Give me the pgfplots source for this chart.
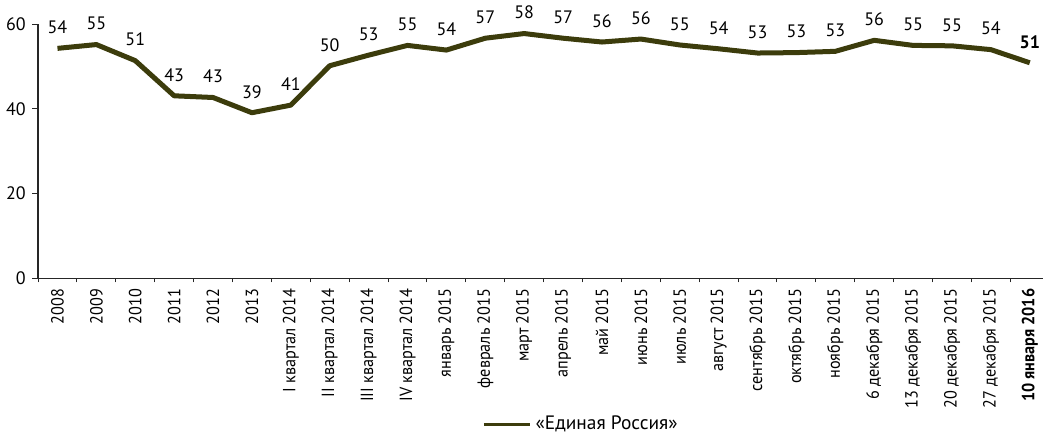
\documentclass[border=0pt]{standalone}
\usepackage{fontspec}
\setmainfont{PT Sans}
\newfontfamily\xtickfont{PT Sans}[FakeStretch=0.92]
\usepackage{pgfplots}
\pgfplotsset{compat=1.18}
\definecolor{er}{RGB}{60,60,12}
\begin{document}
\fontsize{9pt}{11pt}\selectfont
\begin{tikzpicture}
\begin{axis}[
  scale only axis,
  width=502.5pt, height=127pt,
  xmin=-0.5, xmax=25.35,
  ymin=0, ymax=60,
  axis x line*=bottom, axis y line*=left,
  axis line style={black!85, line width=0.6pt},
  ytick={0,20,40,60},
  xtick={0,...,25},
  major x tick style={draw=none},
  minor xtick={-0.5,0.5,...,24.5},
  minor tick length=2pt,
  major tick length=3pt,
  tick align=outside,
  tick style={black!85, line width=0.5pt},
  /pgf/number format/assume math mode=true,
  yticklabel style={font=\fontsize{9pt}{11pt}\selectfont},
  xticklabel style={rotate=90, anchor=east, inner sep=2pt, font=\xtickfont\fontsize{8.8pt}{11pt}\selectfont},
  xticklabels={2008,2009,2010,2011,2012,2013,I квартал 2014,II квартал 2014,III квартал 2014,IV квартал 2014,январь 2015,февраль 2015,март 2015,апрель 2015,май 2015,июнь 2015,июль 2015,август 2015,сентябрь 2015,октябрь 2015,ноябрь 2015,6 декабря 2015,13 декабря 2015,20 декабря 2015,27 декабря 2015,\textbf{10 января 2016}},
  clip=false,
  legend style={at={(0.541,-0.575)}, anchor=center, draw=none, fill=none, font=\fontsize{9.7pt}{12pt}\selectfont, inner sep=0pt},
  legend image code/.code={\draw[#1, line width=1.7pt] (0pt,0pt) -- (23pt,0pt);},
  nodes near coords,
  point meta=explicit symbolic,
  every node near coord/.append style={font=\fontsize{9pt}{11pt}\selectfont, anchor=south, yshift=3pt, black},
]
\addplot[er, line width=2.5pt, line join=round, mark=none] coordinates {
(0,54.3) [54]
(1,55.2) [55]
(2,51.4) [51]
(3,43.1) [43]
(4,42.7) [43]
(5,39.1) [39]
(6,40.9) [41]
(7,50.2) [50]
(8,52.7) [53]
(9,55.0) [55]
(10,53.9) [54]
(11,56.7) [57]
(12,57.8) [58]
(13,56.7) [57]
(14,55.8) [56]
(15,56.5) [56]
(16,55.1) [55]
(17,54.2) [54]
(18,53.2) [53]
(19,53.3) [53]
(20,53.6) [53]
(21,56.2) [56]
(22,55.0) [55]
(23,54.9) [55]
(24,54.0) [54]
(25,50.9) [\textbf{51}]
};
\addlegendentry{«Единая Россия»}
\end{axis}
\end{tikzpicture}
\end{document}
